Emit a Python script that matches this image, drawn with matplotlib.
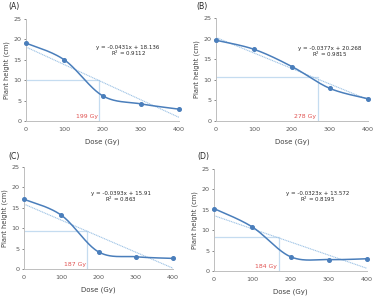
import numpy as np
import matplotlib.pyplot as plt

# dose levels (Gy) shared by all panels
dose = [0, 100, 200, 300, 400]

# plant height (cm)
height_a = [19.1, 15.0, 6.2, 4.2, 2.9]
height_b = [19.6, 17.4, 13.2, 7.9, 5.4]
height_c = [17.1, 13.2, 4.2, 3.0, 2.6]
height_d = [15.3, 10.8, 3.5, 2.8, 3.0]

# linear trend (slope, intercept, R2)
trend_a = (-0.0431, 18.136, 0.9112)
trend_b = (-0.0377, 20.268, 0.9815)
trend_c = (-0.0393, 15.91, 0.863)
trend_d = (-0.0323, 13.572, 0.8195)

# reference guide lines: x of vertical line, y of horizontal line, label
guide_a = (191, 10.1, '199 Gy')
guide_b = (268, 10.6, '278 Gy')
guide_c = (170, 9.3, '187 Gy')
guide_d = (169, 8.4, '184 Gy')

panel_names = ['(A)', '(B)', '(C)', '(D)']

LINE = '#4a7ebb'
TREND = '#9cc2e5'
GUIDE = '#c5dcf0'
GRAY = '#595959'


def smooth_curve(x, y, n=40):
    """Excel-like smoothed line: cubic bezier with catmull-rom control points."""
    x = np.asarray(x, float)
    y = np.asarray(y, float)
    px, py = [], []
    for i in range(len(x) - 1):
        x0, y0 = (x[i - 1], y[i - 1]) if i > 0 else (x[i], y[i])
        x3, y3 = (x[i + 2], y[i + 2]) if i + 2 < len(x) else (x[i + 1], y[i + 1])
        c1x = x[i] + (x[i + 1] - x0) / 6
        c1y = y[i] + (y[i + 1] - y0) / 6
        c2x = x[i + 1] - (x3 - x[i]) / 6
        c2y = y[i + 1] - (y3 - y[i]) / 6
        t = np.linspace(0, 1, n)
        bx = ((1 - t) ** 3 * x[i] + 3 * (1 - t) ** 2 * t * c1x
              + 3 * (1 - t) * t ** 2 * c2x + t ** 3 * x[i + 1])
        by = ((1 - t) ** 3 * y[i] + 3 * (1 - t) ** 2 * t * c1y
              + 3 * (1 - t) * t ** 2 * c2y + t ** 3 * y[i + 1])
        px.extend(bx)
        py.extend(by)
    return px, py


def draw_panel(ax, heights, trend, guide, eq_pos, lab_y):
    slope, icpt, r2 = trend
    vx, hy, lab = guide

    # guide lines
    ax.plot([0, vx], [hy, hy], color=GUIDE, lw=0.9, zorder=1)
    ax.plot([vx, vx], [0, slope * vx + icpt], color=GUIDE, lw=0.9, zorder=1)

    # linear trend
    tx = np.array([0, 400])
    ax.plot(tx, slope * tx + icpt, color=TREND, lw=0.8, ls=(0, (1, 0.6)), zorder=2)

    # data
    sx, sy = smooth_curve(dose, heights)
    ax.plot(sx, sy, color=LINE, lw=1.1, zorder=3, clip_on=False)
    ax.plot(dose, heights, 'o', color=LINE, ms=2.6, zorder=4, clip_on=False)

    ax.text(vx - 4, lab_y, lab, color='#e0504f', fontsize=4.4, ha='right', va='bottom')
    ax.text(eq_pos[0], eq_pos[1], f'y = {slope}x + {icpt}', fontsize=4.0,
            ha='center', va='center', color='#262626')
    ax.text(eq_pos[0], eq_pos[1] - 1.5, f'R$^2$ = {r2}', fontsize=4.0,
            ha='center', va='center', color='#262626')

    ax.set_xlim(0, 400)
    ax.set_ylim(0, 25)
    ax.set_xticks(dose)
    ax.set_yticks([0, 5, 10, 15, 20, 25])
    ax.tick_params(labelsize=4.6, colors=GRAY, length=1.5, width=0.5, pad=2)
    ax.tick_params(axis='x', length=0, pad=4)
    for s in ['top', 'right']:
        ax.spines[s].set_visible(False)
    for s in ['left', 'bottom']:
        ax.spines[s].set_color('#bfbfbf')
        ax.spines[s].set_linewidth(0.7)
    ax.set_xlabel('Dose (Gy)', fontsize=5.0, color='#404040', labelpad=5)
    ax.set_ylabel('Plant height (cm)', fontsize=4.8, color='#404040', labelpad=2)


fig = plt.figure(figsize=(3.77, 3.0), dpi=100)

rects = [
    (26 / 377, 1 - 121 / 300, 153 / 377, 102 / 300),
    (216 / 377, 1 - 121 / 300, 152 / 377, 103 / 300),
    (24 / 377, 1 - 269 / 300, 149 / 377, 102 / 300),
    (214 / 377, 1 - 271 / 300, 153 / 377, 102 / 300),
]
all_heights = [height_a, height_b, height_c, height_d]
all_trends = [trend_a, trend_b, trend_c, trend_d]
all_guides = [guide_a, guide_b, guide_c, guide_d]
eq_positions = [(267, 18.1), (300, 17.7), (260, 18.6), (272, 19.1)]
label_pos = [(8, 6), (196, 6), (8, 156), (197, 156)]

for rect, h, tr, gd, eq, (lx, ly), name in zip(rects, all_heights, all_trends,
                                               all_guides, eq_positions,
                                               label_pos, panel_names):
    ax = fig.add_axes(rect)
    draw_panel(ax, h, tr, gd, eq, 0.4)
    fig.text(lx / 377, 1 - ly / 300, name, fontsize=5.6, color='#262626',
             ha='left', va='center')

fig.savefig('out.png', dpi=100)
